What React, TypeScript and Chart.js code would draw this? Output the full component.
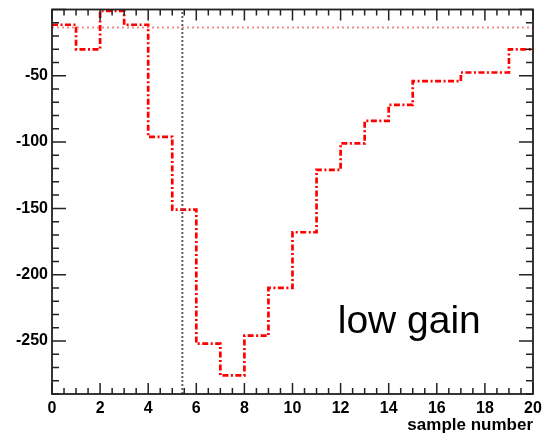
import React, { useEffect, useRef } from "react";
import { Chart, registerables } from "chart.js";

Chart.register(...registerables);

// bin lower edges (sample number) and bin contents
const binEdges = [0, 1, 2, 3, 4, 5, 6, 7, 8, 9, 10, 11, 12, 13, 14, 15, 16, 17, 18, 19, 20];
const binValues = [-11.5, -30, -1, -11.5, -96, -151, -252, -276, -246, -210, -168, -121, -101, -84, -72, -54, -54, -47.5, -47.5, -30];
const baselineY = -13.5;
const markerX = 5.42;
const xRange = [0, 20];
const yRange = [-290, 0];
const xTickStep = 2;
const yTickStep = 50;
const labelText = "low gain";
const labelPos = [11.88, -244];
const xTitle = "sample number";

const FONT = "'Liberation Sans', Arial, Helvetica, sans-serif";

export default function App() {
  const ref = useRef<HTMLCanvasElement | null>(null);
  useEffect(() => {
    if (!ref.current) return;
    const histPts = binEdges.map((x, i) => ({ x, y: binValues[Math.min(i, binValues.length - 1)] }));

    const framePlugin = {
      id: "frame",
      afterDatasetsDraw(chart: any) {
        const { ctx, chartArea: a, scales } = chart;
        const xs = scales.x;
        const ys = scales.y;
        ctx.save();
        ctx.strokeStyle = "#222";
        ctx.lineWidth = 1.8;
        ctx.strokeRect(a.left, a.top, a.right - a.left, a.bottom - a.top);
        ctx.lineWidth = 1.5;
        ctx.beginPath();
        for (let v = xRange[0]; v <= xRange[1] + 1e-9; v += 0.5) {
          const px = xs.getPixelForValue(v);
          const major = Math.abs(v / xTickStep - Math.round(v / xTickStep)) < 1e-6;
          const len = major ? 11 : 6;
          ctx.moveTo(px, a.bottom);
          ctx.lineTo(px, a.bottom - len);
          ctx.moveTo(px, a.top);
          ctx.lineTo(px, a.top + len);
        }
        for (let v = yRange[0]; v <= yRange[1] + 1e-9; v += 10) {
          const py = ys.getPixelForValue(v);
          const major = Math.abs(v / yTickStep - Math.round(v / yTickStep)) < 1e-6;
          const len = major ? 14 : 7;
          ctx.moveTo(a.left, py);
          ctx.lineTo(a.left + len, py);
          ctx.moveTo(a.right, py);
          ctx.lineTo(a.right - len, py);
        }
        ctx.stroke();
        ctx.fillStyle = "#000";
        ctx.font = `39px ${FONT}`;
        ctx.textAlign = "left";
        ctx.textBaseline = "alphabetic";
        ctx.fillText(labelText, xs.getPixelForValue(labelPos[0]), ys.getPixelForValue(labelPos[1]));
        ctx.restore();
      },
    };

    const zeroPad = (scale: any) => {
      scale.paddingTop = 0;
      scale.paddingBottom = 0;
      scale.paddingLeft = 0;
      scale.paddingRight = 0;
    };

    const chart = new Chart(ref.current, {
      type: "line",
      data: {
        datasets: [
          {
            label: "baseline",
            data: [
              { x: xRange[0], y: baselineY },
              { x: xRange[1], y: baselineY },
            ],
            borderColor: "rgb(240,140,140)",
            borderWidth: 2,
            borderDash: [2, 3],
            pointRadius: 0,
          },
          {
            label: "marker",
            data: [
              { x: markerX, y: yRange[0] },
              { x: markerX, y: yRange[1] },
            ],
            borderColor: "rgb(95,95,95)",
            borderWidth: 2,
            borderDash: [2, 2],
            pointRadius: 0,
          },
          {
            label: "low gain",
            data: histPts,
            stepped: "before",
            borderColor: "rgb(255,0,0)",
            borderWidth: 2.7,
            borderDash: [6, 2.5, 2, 2.5],
            pointRadius: 0,
          },
        ],
      },
      options: {
        animation: false,
        responsive: false,
        maintainAspectRatio: false,
        layout: { padding: { top: 9.5, right: 10, left: 0, bottom: 0 } },
        plugins: { legend: { display: false }, tooltip: { enabled: false } },
        scales: {
          x: {
            type: "linear",
            min: xRange[0],
            max: xRange[1],
            grid: { display: false, drawTicks: false },
            border: { display: false },
            ticks: {
              stepSize: xTickStep,
              padding: 5,
              color: "#000",
              maxRotation: 0,
              font: { family: FONT, size: 16, weight: "bold" },
            },
            title: {
              display: true,
              text: xTitle,
              align: "end",
              color: "#000",
              padding: { top: 0, bottom: 0 },
              font: { family: FONT, size: 17, weight: "bold" },
            },
            afterFit(scale: any) {
              scale.height = 42;
              zeroPad(scale);
            },
          },
          y: {
            type: "linear",
            min: yRange[0],
            max: yRange[1],
            grid: { display: false, drawTicks: false },
            border: { display: false },
            ticks: {
              stepSize: yTickStep,
              includeBounds: false,
              padding: 4,
              color: "#000",
              font: { family: FONT, size: 16, weight: "bold" },
              callback: (v: any) => (Number(v) === 0 ? "" : String(v)),
            },
            afterFit(scale: any) {
              scale.width = 52;
              zeroPad(scale);
            },
          },
        },
      },
      plugins: [framePlugin],
    });
    return () => chart.destroy();
  }, []);
  return (
    <div style={{ position: "fixed", left: 0, top: 0, width: 543, height: 436, background: "#fff" }}>
      <canvas ref={ref} width={543} height={436} style={{ width: 543, height: 436 }} />
    </div>
  );
}
